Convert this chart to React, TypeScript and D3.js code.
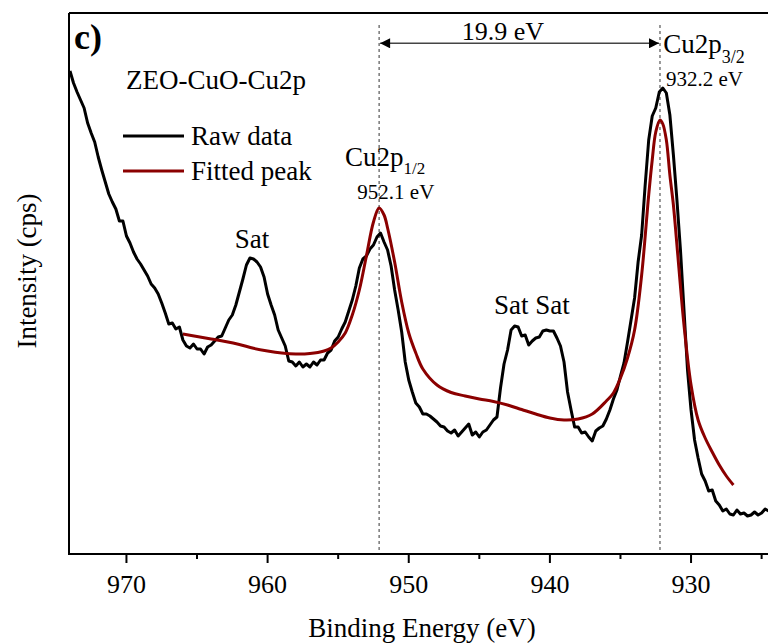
import React from "react";
import * as d3 from "d3";

// Raw XPS spectrum: [binding energy (eV), intensity (cps, arbitrary)]
const rawData: [number, number][] = [
  [974.0, 4830], [973.75, 4710], [973.5, 4620], [973.25, 4540], [973.0, 4460],
  [972.75, 4310], [972.5, 4210], [972.25, 4120], [972.0, 3970], [971.75, 3840],
  [971.5, 3720], [971.25, 3600], [971.0, 3520], [970.75, 3450], [970.5, 3330],
  [970.25, 3330], [970.0, 3180], [969.75, 3110], [969.5, 3020], [969.25, 2950],
  [969.0, 2900], [968.75, 2840], [968.5, 2780], [968.25, 2700], [968.0, 2660],
  [967.75, 2600], [967.5, 2510], [967.25, 2410], [967.0, 2300], [966.75, 2310],
  [966.5, 2250], [966.25, 2270], [966.0, 2140], [965.75, 2080], [965.5, 2060],
  [965.25, 2100], [965.0, 2050], [964.75, 2050], [964.5, 2000], [964.25, 2070],
  [964.0, 2090], [963.75, 2130], [963.5, 2170], [963.25, 2180], [963.0, 2260],
  [962.75, 2340], [962.5, 2390], [962.25, 2490], [962.0, 2620], [961.75, 2750],
  [961.5, 2890], [961.25, 2960], [961.0, 2950], [960.75, 2920], [960.5, 2870],
  [960.25, 2770], [960.0, 2600], [959.75, 2490], [959.5, 2390], [959.25, 2240],
  [959.0, 2160], [958.75, 2080], [958.5, 1930], [958.25, 1920], [958.0, 1880],
  [957.75, 1920], [957.5, 1870], [957.25, 1900], [957.0, 1870], [956.75, 1920],
  [956.5, 1890], [956.25, 1940], [956.0, 1940], [955.75, 2010], [955.5, 2040],
  [955.25, 2130], [955.0, 2170], [954.75, 2250], [954.5, 2320], [954.25, 2430],
  [954.0, 2540], [953.75, 2680], [953.5, 2860], [953.25, 2950], [953.0, 2980],
  [952.75, 3050], [952.5, 3090], [952.25, 3170], [952.0, 3210], [951.75, 3120],
  [951.5, 3040], [951.25, 2880], [951.0, 2640], [950.75, 2440], [950.5, 2220],
  [950.25, 1920], [950.0, 1740], [949.75, 1620], [949.5, 1510], [949.25, 1470],
  [949.0, 1400], [948.75, 1400], [948.5, 1380], [948.25, 1350], [948.0, 1320],
  [947.75, 1280], [947.5, 1270], [947.25, 1230], [947.0, 1210], [946.75, 1240],
  [946.5, 1180], [946.25, 1220], [946.0, 1260], [945.75, 1300], [945.5, 1190],
  [945.25, 1220], [945.0, 1170], [944.75, 1220], [944.5, 1240], [944.25, 1290],
  [944.0, 1340], [943.75, 1370], [943.5, 1660], [943.25, 1900], [943.0, 2040],
  [942.75, 2240], [942.5, 2280], [942.25, 2270], [942.0, 2180], [941.75, 2190],
  [941.5, 2090], [941.25, 2130], [941.0, 2160], [940.75, 2170], [940.5, 2230],
  [940.25, 2240], [940.0, 2230], [939.75, 2230], [939.5, 2160], [939.25, 2080],
  [939.0, 1920], [938.75, 1620], [938.5, 1440], [938.25, 1270], [938.0, 1270],
  [937.75, 1210], [937.5, 1220], [937.25, 1170], [937.0, 1130], [936.75, 1230],
  [936.5, 1260], [936.25, 1280], [936.0, 1350], [935.75, 1440], [935.5, 1550],
  [935.25, 1640], [935.0, 1780], [934.75, 1910], [934.5, 2120], [934.25, 2340],
  [934.0, 2560], [933.75, 2920], [933.5, 3190], [933.25, 3690], [933.0, 4140],
  [932.75, 4380], [932.5, 4460], [932.25, 4620], [932.0, 4660], [931.75, 4610],
  [931.5, 4390], [931.25, 3990], [931.0, 3540], [930.75, 3040], [930.5, 2440],
  [930.25, 1840], [930.0, 1440], [929.75, 1140], [929.5, 960], [929.25, 800],
  [929.0, 730], [928.75, 630], [928.5, 640], [928.25, 530], [928.0, 490],
  [927.75, 430], [927.5, 450], [927.25, 400], [927.0, 390], [926.75, 440],
  [926.5, 400], [926.25, 410], [926.0, 380], [925.75, 390], [925.5, 420],
  [925.25, 390], [925.0, 410], [924.75, 450], [924.5, 430],
];

// Fitted envelope: [binding energy (eV), intensity]
const fittedData: [number, number][] = [
  [966.0, 2200], [965.0, 2175], [964.0, 2150], [963.0, 2125], [962.0, 2095],
  [961.0, 2057], [960.0, 2030], [959.0, 2010], [958.0, 2000], [957.0, 2005],
  [956.0, 2030], [955.5, 2060], [955.0, 2120], [954.5, 2210], [954.0, 2390],
  [953.5, 2640], [953.0, 2980], [952.5, 3320], [952.1, 3460], [951.75, 3390],
  [951.5, 3260], [951.0, 2920], [950.5, 2520], [950.0, 2210], [949.5, 2010],
  [949.0, 1850], [948.0, 1690], [947.0, 1615], [946.0, 1580], [945.0, 1550],
  [944.0, 1525], [943.0, 1490], [942.0, 1445], [941.0, 1400], [940.0, 1360],
  [939.0, 1340], [938.0, 1350], [937.0, 1400], [936.0, 1530], [935.5, 1610],
  [935.0, 1760], [934.5, 1960], [934.0, 2240], [933.5, 2790], [933.0, 3590],
  [932.75, 3940], [932.5, 4220], [932.2, 4340], [932.0, 4300], [931.75, 4140],
  [931.5, 3790], [931.25, 3490], [931.0, 3090], [930.5, 2290], [930.0, 1690],
  [929.5, 1340], [929.0, 1160], [928.5, 1020], [928.0, 890], [927.5, 780],
  [927.0, 690],
];

const majorTicks = [970, 960, 950, 940, 930];
const minorTicks = [965, 955, 945, 935, 925];
const peakPositions = [952.1, 932.2];

const W = 768;
const H = 644;
const left = 69;
const top = 13;
const bottom = 554;
const pxPerEv = 14.115;
const eMax = 974.07;
const eMin = 920;
const RED = "#8b0000";
const TS = { fontFamily: "Liberation Serif" };

export default function App() {
  const x = d3
    .scaleLinear()
    .domain([eMax, eMin])
    .range([left, left + (eMax - eMin) * pxPerEv]);
  const y = d3.scaleLinear().domain([0, 5410]).range([bottom, top]);

  const line = d3
    .line<[number, number]>()
    .x((d) => x(d[0]))
    .y((d) => y(d[1]));
  const smooth = d3
    .line<[number, number]>()
    .x((d) => x(d[0]))
    .y((d) => y(d[1]))
    .curve(d3.curveCatmullRom.alpha(0.5));

  const arrowY = y(5107);
  const x1 = x(peakPositions[0]);
  const x2 = x(peakPositions[1]);

  return (
    <svg
      width={W}
      height={H}
      style={{ position: "absolute", left: 0, top: 0, background: "#fff" }}
    >
      <defs>
        <clipPath id="plot">
          <rect x={left} y={top} width={W - left} height={bottom - top} />
        </clipPath>
        <marker id="ah" viewBox="0 0 10 10" refX="10" refY="5" markerWidth="13" markerHeight="10" markerUnits="userSpaceOnUse" orient="auto-start-reverse">
          <path d="M0,0 L10,5 L0,10 z" fill="#000" />
        </marker>
      </defs>

      {/* dashed peak lines */}
      {peakPositions.map((p) => (
        <line
          key={p}
          x1={x(p)}
          x2={x(p)}
          y1={25}
          y2={bottom}
          stroke="#333"
          strokeWidth={1}
          strokeDasharray="3,3"
        />
      ))}

      {/* curves */}
      <g clipPath="url(#plot)">
        <path
          d={line(rawData) || ""}
          fill="none"
          stroke="#000"
          strokeWidth={3}
          strokeLinejoin="round"
        />
        <path
          d={smooth(fittedData) || ""}
          fill="none"
          stroke={RED}
          strokeWidth={3}
        />
      </g>

      {/* frame */}
      <line x1={left} x2={W} y1={top} y2={top} stroke="#000" strokeWidth={2} />
      <line x1={left} x2={left} y1={top} y2={bottom + 1} stroke="#000" strokeWidth={2} />
      <line x1={left - 1} x2={W} y1={bottom} y2={bottom} stroke="#000" strokeWidth={2} />

      {/* ticks */}
      {majorTicks.map((t) => (
        <g key={t}>
          <line x1={x(t)} x2={x(t)} y1={bottom} y2={bottom + 9} stroke="#000" strokeWidth={2} />
          <text x={x(t)} y={593} textAnchor="middle" fontSize={26} style={TS}>
            {t}
          </text>
        </g>
      ))}
      {minorTicks.map((t) => (
        <line key={t} x1={x(t)} x2={x(t)} y1={bottom} y2={bottom + 5} stroke="#000" strokeWidth={2} />
      ))}

      {/* axis titles */}
      <text x={422} y={637} textAnchor="middle" fontSize={27} style={TS}>
        Binding Energy (eV)
      </text>
      <text
        transform={`translate(36,271) rotate(-90)`}
        textAnchor="middle"
        fontSize={27}
        style={TS}
      >
        Intensity (cps)
      </text>

      {/* panel label & title */}
      <text x={74} y={49} fontSize={36} fontWeight="bold" style={TS}>
        c)
      </text>
      <text x={126} y={89} fontSize={27} style={TS}>
        ZEO-CuO-Cu2p
      </text>

      {/* legend */}
      <line x1={123} x2={184} y1={136} y2={136} stroke="#000" strokeWidth={3} />
      <text x={191} y={145} fontSize={27} style={TS}>
        Raw data
      </text>
      <line x1={123} x2={184} y1={171} y2={171} stroke={RED} strokeWidth={3} />
      <text x={191} y={180} fontSize={27} style={TS}>
        Fitted peak
      </text>

      {/* arrow between peaks */}
      <line
        x1={x1 + 1}
        x2={x2 - 1}
        y1={arrowY}
        y2={arrowY}
        stroke="#444"
        strokeWidth={1.5}
        markerStart="url(#ah)"
        markerEnd="url(#ah)"
      />
      <text x={503} y={40} textAnchor="middle" fontSize={26} style={TS}>
        19.9 eV
      </text>

      {/* peak labels */}
      <text x={x(954.52)} y={166} fontSize={27} style={TS}>
        Cu2p<tspan fontSize={17} dy={8}>1/2</tspan>
      </text>
      <text x={x(953.64)} y={199} fontSize={21} style={TS}>
        952.1 eV
      </text>
      <text x={x(931.97)} y={53} fontSize={27} style={TS}>
        Cu2p<tspan fontSize={18} dy={10}>3/2</tspan>
      </text>
      <text x={x(931.78)} y={86} fontSize={21} style={TS}>
        932.2 eV
      </text>

      {/* satellite labels */}
      <text x={x(961.1)} y={248} textAnchor="middle" fontSize={27} style={TS}>
        Sat
      </text>
      <text x={x(941.27)} y={314} textAnchor="middle" fontSize={27} style={TS}>
        Sat Sat
      </text>
    </svg>
  );
}
